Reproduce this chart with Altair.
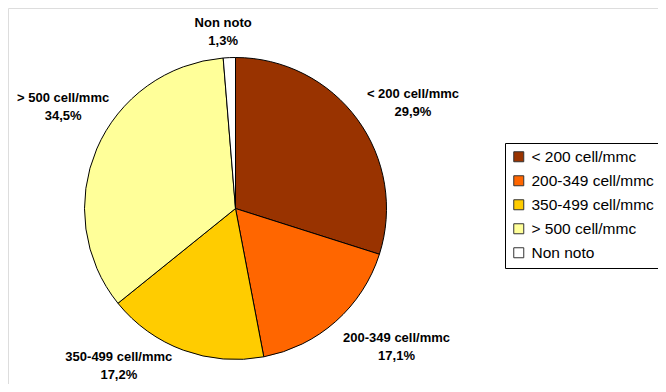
import altair as alt
import pandas as pd

# ---- data ----
categories = ["< 200 cell/mmc", "200-349 cell/mmc", "350-499 cell/mmc", "> 500 cell/mmc", "Non noto"]
percent = [29.9, 17.1, 17.2, 34.5, 1.3]
pct_labels = ["29,9%", "17,1%", "17,2%", "34,5%", "1,3%"]
colors = ["#993300", "#FF6600", "#FFCC00", "#FFFF99", "#FFFFFF"]

# ---- layout (label nudges, in px, relative to polar anchor) ----
label_dx = [12, 25, -46, 16, -4]
label_dy = [7, -24, -44, -30, 19]

df = pd.DataFrame({
    "cat": categories,
    "pct": percent,
    "lab": [c + "\n" + p for c, p in zip(categories, pct_labels)],
    "ord": list(range(len(categories))),
})

CX, CY = 227.5, 200.5
R = 151
FONT = "Liberation Sans"
theta_scale = alt.Scale(domain=[0, 100])

pie = alt.Chart(df).mark_arc(outerRadius=R, stroke="black", strokeWidth=1).encode(
    theta=alt.Theta("pct:Q", stack=True, scale=theta_scale),
    order=alt.Order("ord:Q"),
    x=alt.value(CX),
    y=alt.value(CY),
    color=alt.Color(
        "cat:N",
        scale=alt.Scale(domain=categories, range=colors),
        legend=alt.Legend(
            title=None,
            orient="none",
            legendX=497,
            legendY=135,
            symbolType="square",
            symbolSize=100,
            symbolStrokeColor="#333333",
            symbolStrokeWidth=1,
            labelFontSize=15.5,
            labelFont=FONT,
            labelColor="black",
            strokeColor="black",
            fillColor="white",
            padding=6,
            rowPadding=7,
            labelOffset=5,
        ),
    ),
)

stacked = alt.Chart(df).transform_window(
    cum="sum(pct)", sort=[alt.SortField("ord")], frame=[None, 0]
).transform_calculate(mid="datum.cum - datum.pct / 2")

layers = [pie]
for i in range(len(categories)):
    layers.append(
        stacked.transform_filter(alt.datum.ord == i).mark_text(
            radius=205,
            dx=label_dx[i],
            dy=label_dy[i],
            align="center",
            baseline="middle",
            font=FONT,
            fontSize=13,
            fontWeight="bold",
            lineHeight=18,
            lineBreak="\n",
            color="black",
        ).encode(
            theta=alt.Theta("mid:Q", stack=False, scale=theta_scale),
            x=alt.value(CX),
            y=alt.value(CY),
            text="lab:N",
        )
    )

chart = alt.layer(*layers).properties(
    width=650, height=376, autosize="none", padding=0
).configure_view(stroke=None).configure(background="white")

chart.save("out.html", embed_options={"renderer": "svg", "actions": False})
